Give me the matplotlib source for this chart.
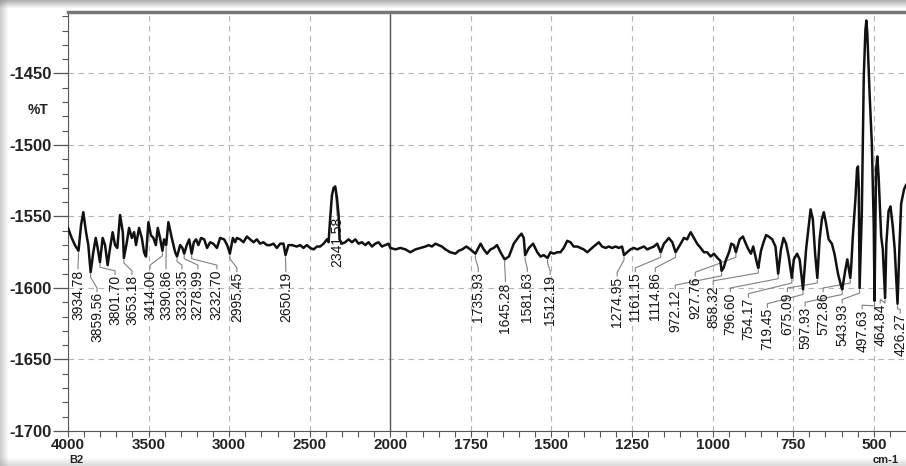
import numpy as np
import matplotlib
matplotlib.use("Agg")
import matplotlib.pyplot as plt
from matplotlib.patches import Rectangle
from matplotlib.ticker import FixedLocator

plt.rcParams['font.family'] = ['Liberation Sans', 'DejaVu Sans']
plt.rcParams['axes.unicode_minus'] = False

# spectrum (cm-1, %T)
wavenumber = [4000, 3977, 3957, 3934.78, 3919, 3905, 3888, 3874, 3859.56, 3843, 3828, 3816,
              3801.70, 3785, 3770, 3754, 3739, 3723, 3708, 3694, 3677, 3660, 3653.18, 3635,
              3621, 3604, 3590, 3578, 3559, 3542, 3528, 3516, 3501, 3486, 3470, 3455, 3443,
              3429, 3414.00, 3404, 3390.86, 3377, 3356, 3335, 3323.35, 3304, 3290, 3278.99,
              3263, 3248, 3232.70, 3219, 3205, 3191, 3174, 3155, 3137, 3118, 3099, 3076,
              3056, 3031, 3012, 2995.45, 2977, 2963, 2952, 2932, 2911, 2890, 2870, 2849,
              2828, 2808, 2787, 2766, 2745, 2725, 2704, 2683, 2663, 2650.19, 2632, 2611,
              2580, 2559, 2539, 2518, 2497, 2476, 2455, 2435, 2414, 2393, 2383, 2373, 2362,
              2352, 2341.58, 2331, 2321, 2315, 2300, 2280, 2259, 2238, 2217, 2197, 2176,
              2155, 2135, 2114, 2093, 2073, 2052, 2031, 2011, 2000, 1984, 1969, 1953, 1938,
              1922, 1907, 1891, 1881, 1871, 1860, 1850, 1840, 1829, 1814, 1798, 1788, 1777,
              1764, 1752, 1735.93, 1720, 1710, 1700, 1689, 1679, 1669, 1658, 1645.28, 1632,
              1617, 1601, 1593, 1586, 1581.63, 1570, 1557, 1544, 1534, 1524, 1512.19, 1503,
              1493, 1482, 1472, 1462, 1451, 1441, 1431, 1420, 1410, 1400, 1389, 1379, 1369,
              1358, 1353, 1343, 1332, 1322, 1312, 1301, 1291, 1281, 1274.95, 1255, 1244,
              1234, 1224, 1213, 1203, 1193, 1182, 1172, 1161.15, 1151, 1143, 1136, 1125,
              1114.86, 1099, 1089, 1079, 1073, 1068, 1058, 1048, 1037, 1027, 1017, 1006,
              996, 985, 976, 972.12, 966, 958, 949, 942, 934, 927.76, 916, 906, 897, 889,
              881, 874, 868, 862, 858.32, 850, 842, 834, 826, 815, 805, 796.60, 788, 780,
              772, 764, 754.17, 748, 738, 730, 725, 719.45, 710, 701, 696, 689, 682, 675.09,
              668, 661, 655, 648, 640, 630, 622, 611, 601, 597.93, 588, 582, 572.86, 570,
              565, 557, 552, 549, 546.5, 543.93, 537, 531, 526, 523, 520, 513, 506, 500,
              497.63, 493, 489, 485, 477, 472, 464.84, 461, 454, 448, 441, 435, 426.27, 420,
              415, 406, 400]
transmittance = [-1558, -1565, -1570, -1574, -1556, -1547, -1561, -1570, -1589, -1575, -1565, -1572,
                 -1582, -1565, -1570, -1584, -1572, -1561, -1570, -1572, -1549, -1561, -1579, -1568,
                 -1558, -1565, -1561, -1570, -1558, -1565, -1575, -1578, -1554, -1563, -1565, -1570, -1558,
                 -1565, -1574, -1566, -1570, -1554, -1565, -1575, -1578, -1570, -1572, -1576,
                 -1570, -1566, -1576, -1568, -1566, -1570, -1565, -1566, -1572, -1568, -1569, -1572,
                 -1565, -1566, -1570, -1576, -1565, -1568, -1565, -1566, -1568, -1564, -1566, -1568,
                 -1566, -1569, -1568, -1570, -1570, -1569, -1572, -1569, -1569, -1577, -1570, -1570,
                 -1571, -1570, -1572, -1570, -1572, -1573, -1571, -1571, -1569, -1566, -1568, -1551, -1535,
                 -1530, -1529, -1537, -1549, -1566, -1569, -1568, -1566, -1568, -1566, -1569, -1568,
                 -1570, -1568, -1571, -1569, -1568, -1571, -1570, -1569, -1572, -1573, -1572, -1573, -1575,
                 -1573, -1572, -1571, -1570, -1571, -1569, -1570, -1571, -1573, -1575, -1576, -1574, -1573,
                 -1571, -1573, -1576, -1569, -1573, -1576, -1573, -1572, -1570, -1575, -1580, -1578,
                 -1569, -1564, -1562, -1565, -1577, -1572, -1569, -1575, -1578, -1577, -1579, -1575,
                 -1576, -1575, -1575, -1572, -1567, -1568, -1571, -1571, -1572, -1573, -1575, -1573, -1571,
                 -1569, -1568, -1571, -1572, -1571, -1572, -1571, -1572, -1571, -1577, -1573, -1572,
                 -1573, -1572, -1571, -1573, -1572, -1571, -1569, -1575, -1569, -1567, -1565, -1568,
                 -1575, -1569, -1565, -1566, -1563, -1561, -1565, -1569, -1572, -1575, -1575, -1578,
                 -1576, -1579, -1581, -1588, -1586, -1580, -1575, -1569, -1570, -1575, -1566, -1564, -1569, -1573,
                 -1576, -1571, -1577, -1583, -1586, -1574, -1568, -1563, -1564, -1566, -1571, -1590, -1573, -1565,
                 -1569, -1578, -1593, -1580, -1576, -1580, -1590, -1601, -1573, -1555, -1545, -1552, -1576, -1593,
                 -1566, -1552, -1547, -1555, -1566, -1569, -1576, -1590, -1599, -1601, -1587, -1580, -1593, -1585,
                 -1564, -1538, -1517, -1515, -1530, -1600, -1546, -1452, -1420, -1413, -1422, -1464, -1499, -1557,
                 -1609, -1518, -1508, -1522, -1564, -1573, -1607, -1569, -1546, -1543, -1557, -1573, -1611, -1569,
                 -1541, -1531, -1528]

peak_labels = [3934.78, 3859.56, 3801.70, 3653.18, 3414.00, 3390.86, 3323.35, 3278.99, 3232.70,
               2995.45, 2650.19, 2341.58, 1735.93, 1645.28, 1581.63, 1512.19, 1274.95, 1161.15,
               1114.86, 972.12, 927.76, 858.32, 796.60, 754.17, 719.45, 675.09, 597.93, 572.86,
               543.93, 497.63, 464.84, 426.27]

# where the software put each label text (column wavenumber, top of text)
label_col = [3938, 3820, 3708, 3603, 3491, 3392, 3293, 3194, 3076, 2952, 2648, 2331, 1727, 1643,
             1575, 1504, 1296, 1240, 1178, 1116, 1054, 998, 945, 889, 830, 768, 713, 657, 598,
             536, 480, 418]
label_top = [-1587, -1603, -1591, -1591, -1587, -1587, -1587, -1587, -1587, -1589, -1589, -1550,
             -1589, -1596, -1589, -1591, -1592, -1589, -1589, -1601, -1592, -1598, -1603, -1607,
             -1614, -1603, -1613, -1603, -1611, -1615, -1611, -1618]

x_major = [4000, 3500, 3000, 2500, 2000, 1750, 1500, 1250, 1000, 750, 500]
y_major = [-1700, -1650, -1600, -1550, -1500, -1450]


def fwd(x):
    x = np.asarray(x, dtype=float)
    return np.where(x >= 2000, x, 2 * x - 2000)


def inv(u):
    u = np.asarray(u, dtype=float)
    return np.where(u >= 2000, u, (u + 2000) / 2)


fig = plt.figure(figsize=(9.06, 4.66), dpi=100)
ax = fig.add_axes([68 / 906, 35 / 466, 838 / 906, 419 / 466])
ax.set_xscale('function', functions=(fwd, inv))
ax.set_xlim(4000, 400)
ax.set_ylim(-1700, -1407)

ax.xaxis.set_major_locator(FixedLocator(x_major))
ax.xaxis.set_minor_locator(FixedLocator(list(np.arange(2100, 4000, 100)) + list(np.arange(450, 2000, 50))))
ax.set_xticklabels([str(v) for v in x_major])
ax.yaxis.set_major_locator(FixedLocator(y_major))
ax.yaxis.set_minor_locator(FixedLocator(np.arange(-1700, -1400, 10)))
ax.set_yticklabels([str(v) for v in y_major])

ax.tick_params(axis='y', which='major', length=11, width=0.9, color='#555', pad=1,
               labelsize=12, labelcolor='#222')
ax.tick_params(axis='y', which='minor', length=4.5, width=0.8, color='#555')
ax.tick_params(axis='x', which='both', length=4, width=0.8, color='#555', pad=1,
               labelsize=11, labelcolor='#222')
for t in ax.get_xticklabels() + ax.get_yticklabels():
    t.set_fontweight('bold')

ax.grid(True, which='major', color='#b5b5b5', linestyle=(0, (5, 4)), linewidth=0.8)
ax.axvline(2000, color='#555555', lw=1.0, zorder=2)

ax.spines['right'].set_visible(False)
ax.spines['left'].set_color('#555')
ax.spines['bottom'].set_color('#555')
ax.spines['top'].set_color('#777')
ax.spines['top'].set_linewidth(2.5)

ax.plot(wavenumber, transmittance, color='#111111', lw=1.8, zorder=4)

# peak labels with leader lines
for wn, lx, top in zip(peak_labels, label_col, label_top):
    yv = np.interp(wn, wavenumber[::-1], transmittance[::-1])
    xs = [wn, wn, lx, lx]
    ys = [yv - 1.5, yv - 3.5, top + 3, top + 0.5]
    ax.plot(xs, ys, color='#808080', lw=0.8, zorder=3)
    ax.text(lx, top, '%.2f' % wn, rotation=90, ha='center', va='top',
            fontsize=10, color='#151515', zorder=5)

fig.text(38 / 906, 1 - 110 / 466, '%T', ha='center', va='center', fontsize=10,
         fontweight='bold', color='#222')
fig.text(76 / 906, 1 / 466, 'B2', ha='center', va='bottom', fontsize=8,
         fontweight='bold', color='#222')
fig.text(886 / 906, 1 / 466, 'cm-1', ha='center', va='bottom', fontsize=8,
         fontweight='bold', color='#222')

# grey scanned frame
for i in range(8):
    a = 0.55 * (1 - i / 8)
    fig.add_artist(Rectangle((0, 1 - (i + 1) / 466), 1, 1 / 466, transform=fig.transFigure,
                             color='#707070', alpha=a, lw=0))
    fig.add_artist(Rectangle((i / 906, 0), 1 / 906, 1, transform=fig.transFigure,
                             color='#909090', alpha=a * 0.8, lw=0))
    fig.add_artist(Rectangle((0, i / 466), 1, 1 / 466, transform=fig.transFigure,
                             color='#909090', alpha=a * 0.6, lw=0))

fig.savefig('out.png', dpi=100)
